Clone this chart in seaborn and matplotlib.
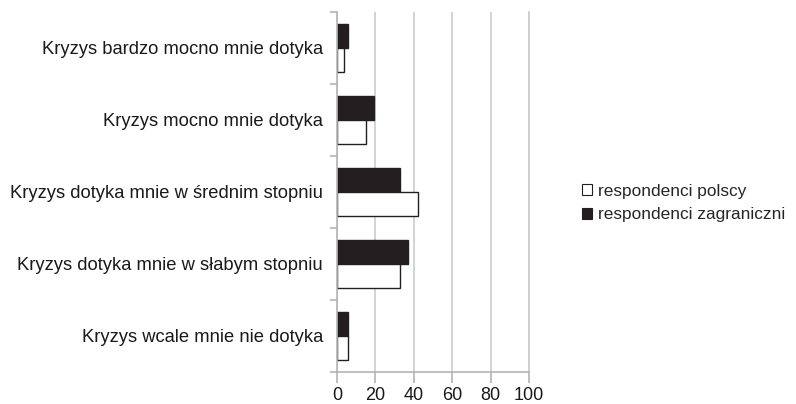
import pandas as pd
import seaborn as sns
from matplotlib import pyplot as plt
from matplotlib.patches import Patch
from matplotlib.ticker import FixedLocator

categories = [
    "Kryzys bardzo mocno mnie dotyka",
    "Kryzys mocno mnie dotyka",
    "Kryzys dotyka mnie w średnim stopniu",
    "Kryzys dotyka mnie w słabym stopniu",
    "Kryzys wcale mnie nie dotyka",
]
polscy = [3.8, 15.3, 42.3, 33.0, 5.9]
zagraniczni = [5.7, 19.3, 32.8, 37.0, 5.7]
series = ["respondenci zagraniczni", "respondenci polscy"]

df = pd.DataFrame({
    "kategoria": categories * 2,
    "procent": zagraniczni + polscy,
    "grupa": [series[0]] * 5 + [series[1]] * 5,
})

sns.set_style("white")
plt.rcParams['font.family'] = ['Liberation Sans', 'DejaVu Sans']

fig = plt.figure(figsize=(7.96, 4.04), dpi=100)
ax = fig.add_axes([337 / 796, 1 - 372 / 404, 192 / 796, 360 / 404])

dark = "#231f20"
sns.barplot(data=df, y="kategoria", x="procent", hue="grupa", hue_order=series,
            order=categories, orient="h", palette=[dark, "white"],
            edgecolor=dark, linewidth=1.0, width=0.667, saturation=1,
            legend=False, ax=ax)

ax.set_xlim(0, 100)
ax.set_ylim(4.5, -0.5)
ax.set_xticks([0, 20, 40, 60, 80, 100])
ax.grid(axis="x", color="#cccccc", linewidth=1.2)
ax.set_axisbelow(True)
ax.set_xlabel("")
ax.set_ylabel("")

ax.spines["top"].set_visible(False)
ax.spines["right"].set_color("#cccccc")
ax.spines["right"].set_linewidth(1.2)
for s in ["left", "bottom"]:
    ax.spines[s].set_color("#b4b4b4")
    ax.spines[s].set_linewidth(1.2)

ax.tick_params(axis="y", which="major", length=0, pad=10, labelsize=13.2, labelcolor="#1a1a1a")
ax.yaxis.set_minor_locator(FixedLocator([-0.5, 0.5, 1.5, 2.5, 3.5, 4.5]))
ax.tick_params(axis="y", which="minor", length=5, color="#b4b4b4", width=1.2, left=True)
ax.tick_params(axis="x", length=8, color="#b4b4b4", width=1.2, bottom=True,
               labelsize=13, labelcolor="#1a1a1a", pad=3)

handles = [Patch(facecolor="white", edgecolor=dark, linewidth=0.8),
           Patch(facecolor=dark, edgecolor=dark, linewidth=0.8)]
fig.legend(handles, ["respondenci polscy", "respondenci zagraniczni"],
           loc="center left", bbox_to_anchor=(582 / 796, 1 - 203 / 404),
           frameon=False, fontsize=12.4, handlelength=0.6, handleheight=0.6,
           handletextpad=0.3, labelspacing=0.5, borderpad=0, borderaxespad=0)

plt.savefig("out.png", dpi=100)
